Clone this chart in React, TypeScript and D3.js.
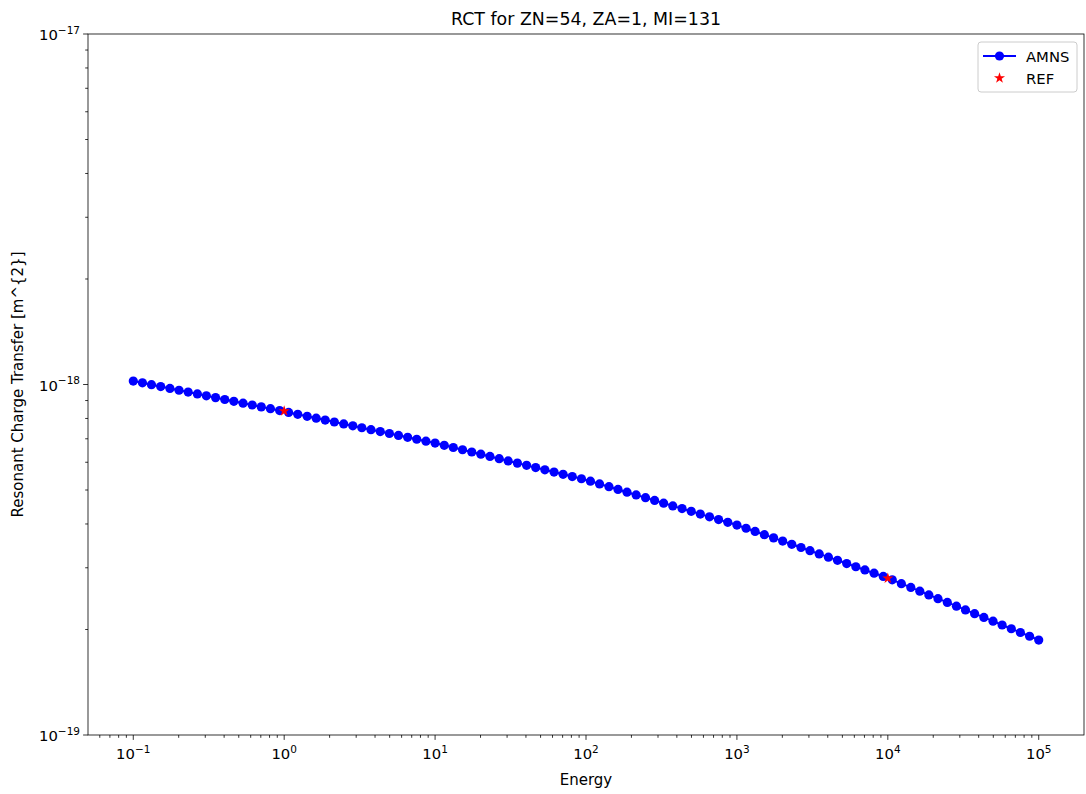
import React, { useEffect, useRef } from "react";
import * as d3 from "d3";

// energies (logspace from 1e-1 to 1e5, 100 points)
const energy: number[] = [
  0.1, 0.115, 0.132, 0.152, 0.175, 0.201, 0.231, 0.266, 0.305, 0.351,
  0.404, 0.464, 0.534, 0.614, 0.705, 0.811, 0.933, 1.07, 1.23, 1.42,
  1.63, 1.87, 2.15, 2.48, 2.85, 3.27, 3.76, 4.33, 4.98, 5.72,
  6.58, 7.56, 8.7, 10, 11.5, 13.2, 15.2, 17.5, 20.1, 23.1,
  26.6, 30.5, 35.1, 40.4, 46.4, 53.4, 61.4, 70.5, 81.1, 93.3,
  107, 123, 142, 163, 187, 215, 248, 285, 327, 376,
  433, 498, 572, 658, 756, 870, 1000, 1150, 1320, 1520,
  1750, 2010, 2310, 2660, 3050, 3510, 4040, 4640, 5340, 6140,
  7050, 8110, 9330, 10700, 12300, 14200, 16300, 18700, 21500, 24800,
  28500, 32700, 37600, 43300, 49800, 57200, 65800, 75600, 87000, 100000,
];

// AMNS cross section [m^2]
const amns: number[] = [
  1.023e-18, 1.011e-18, 9.987e-19, 9.867e-19, 9.748e-19, 9.63e-19, 9.514e-19, 9.399e-19, 9.286e-19, 9.174e-19,
  9.063e-19, 8.954e-19, 8.846e-19, 8.739e-19, 8.633e-19, 8.529e-19, 8.426e-19, 8.323e-19, 8.219e-19, 8.116e-19,
  8.015e-19, 7.915e-19, 7.816e-19, 7.719e-19, 7.622e-19, 7.527e-19, 7.433e-19, 7.34e-19, 7.248e-19, 7.158e-19,
  7.068e-19, 6.98e-19, 6.893e-19, 6.807e-19, 6.708e-19, 6.61e-19, 6.514e-19, 6.419e-19, 6.326e-19, 6.234e-19,
  6.143e-19, 6.054e-19, 5.966e-19, 5.879e-19, 5.793e-19, 5.709e-19, 5.626e-19, 5.544e-19, 5.463e-19, 5.384e-19,
  5.298e-19, 5.203e-19, 5.11e-19, 5.019e-19, 4.929e-19, 4.841e-19, 4.755e-19, 4.67e-19, 4.587e-19, 4.505e-19,
  4.425e-19, 4.346e-19, 4.268e-19, 4.192e-19, 4.117e-19, 4.044e-19, 3.972e-19, 3.889e-19, 3.808e-19, 3.729e-19,
  3.651e-19, 3.575e-19, 3.5e-19, 3.427e-19, 3.356e-19, 3.286e-19, 3.217e-19, 3.15e-19, 3.084e-19, 3.02e-19,
  2.957e-19, 2.895e-19, 2.835e-19, 2.771e-19, 2.703e-19, 2.637e-19, 2.573e-19, 2.51e-19, 2.449e-19, 2.389e-19,
  2.331e-19, 2.274e-19, 2.219e-19, 2.165e-19, 2.112e-19, 2.06e-19, 2.01e-19, 1.961e-19, 1.913e-19, 1.866e-19,
];

const refEnergy: number[] = [1, 10000];
const refValue: number[] = [8.4e-19, 2.8e-19];

const xTickExp: number[] = [-1, 0, 1, 2, 3, 4, 5];
const yTickExp: number[] = [-19, -18, -17];

const W = 1086;
const H = 794;

export default function App() {
  const ref = useRef<SVGSVGElement | null>(null);

  useEffect(() => {
    const margin = { top: 34, right: 2, bottom: 59, left: 88 };
    const width = W - margin.left - margin.right;
    const height = H - margin.top - margin.bottom;
    const font = "DejaVu Sans, sans-serif";

    const svg = d3.select(ref.current);
    svg.selectAll("*").remove();

    const x = d3.scaleLog().domain([Math.pow(10, -1.3), Math.pow(10, 5.3)]).range([0, width]);
    const y = d3.scaleLog().domain([1e-19, 1e-17]).range([height, 0]);

    const g = svg.append("g").attr("transform", `translate(${margin.left},${margin.top})`);

    // minor ticks
    const xMinor: number[] = [];
    for (let e = -2; e <= 5; e++) for (let k = 2; k <= 9; k++) {
      const v = k * Math.pow(10, e);
      if (v > x.domain()[0] && v < x.domain()[1]) xMinor.push(v);
    }
    const yMinor: number[] = [];
    for (let e = -19; e < -17; e++) for (let k = 2; k <= 9; k++) yMinor.push(k * Math.pow(10, e));

    g.selectAll(".xminor").data(xMinor).join("line").attr("class", "xminor")
      .attr("x1", d => x(d)).attr("x2", d => x(d)).attr("y1", height).attr("y2", height + 2.8)
      .attr("stroke", "#000").attr("stroke-width", 0.8);
    g.selectAll(".yminor").data(yMinor).join("line").attr("class", "yminor")
      .attr("y1", d => y(d)).attr("y2", d => y(d)).attr("x1", 0).attr("x2", -2.8)
      .attr("stroke", "#000").attr("stroke-width", 0.8);

    // major ticks + labels
    const xt = g.selectAll(".xtick").data(xTickExp).join("g").attr("class", "xtick")
      .attr("transform", d => `translate(${x(Math.pow(10, d))},${height})`);
    xt.append("line").attr("y2", 4.9).attr("stroke", "#000").attr("stroke-width", 0.8);
    const xtt = xt.append("text").attr("y", 24).attr("text-anchor", "middle")
      .attr("font-family", font).attr("font-size", 14.8).attr("fill", "#000");
    xtt.append("tspan").text("10");
    xtt.append("tspan").attr("dy", -6.5).attr("font-size", 10.5).text(d => (d < 0 ? "\u2212" : "") + Math.abs(d));

    const yt = g.selectAll(".ytick").data(yTickExp).join("g").attr("class", "ytick")
      .attr("transform", d => `translate(0,${y(Math.pow(10, d))})`);
    yt.append("line").attr("x2", -4.9).attr("stroke", "#000").attr("stroke-width", 0.8);
    const ytt = yt.append("text").attr("x", -8).attr("y", 6).attr("text-anchor", "end")
      .attr("font-family", font).attr("font-size", 14.8).attr("fill", "#000");
    ytt.append("tspan").text("10");
    ytt.append("tspan").attr("dy", -6.5).attr("font-size", 10.5).text(d => "\u2212" + Math.abs(d));

    // AMNS line + markers
    const pts = energy.map((e, i) => [e, amns[i]] as [number, number]);
    const line = d3.line<[number, number]>().x(d => x(d[0])).y(d => y(d[1]));
    g.append("path").attr("d", line(pts)).attr("fill", "none").attr("stroke", "#0000ff").attr("stroke-width", 2);
    g.selectAll(".pt").data(pts).join("circle").attr("class", "pt")
      .attr("cx", d => x(d[0])).attr("cy", d => y(d[1])).attr("r", 4.6).attr("fill", "#0000ff");

    // REF stars
    const star = d3.symbol().type(d3.symbolStar).size(38);
    g.selectAll(".ref").data(refEnergy).join("path").attr("class", "ref")
      .attr("transform", (d, i) => `translate(${x(d)},${y(refValue[i])})`)
      .attr("d", star()).attr("fill", "#ff0000");

    // frame
    g.append("rect").attr("width", width).attr("height", height)
      .attr("fill", "none").attr("stroke", "#000").attr("stroke-width", 0.8);

    // legend
    const lg = g.append("g").attr("transform", `translate(${width - 106},${8})`);
    lg.append("rect").attr("width", 99).attr("height", 50).attr("rx", 3)
      .attr("fill", "#fff").attr("fill-opacity", 0.8).attr("stroke", "#cccccc").attr("stroke-width", 1);
    lg.append("line").attr("x1", 5).attr("x2", 38).attr("y1", 14).attr("y2", 14)
      .attr("stroke", "#0000ff").attr("stroke-width", 2);
    lg.append("circle").attr("cx", 21.5).attr("cy", 14).attr("r", 4.6).attr("fill", "#0000ff");
    lg.append("path").attr("transform", "translate(21.5,36)").attr("d", star()).attr("fill", "#ff0000");
    lg.selectAll(".ltxt").data(["AMNS", "REF"]).join("text").attr("class", "ltxt")
      .attr("x", 48).attr("y", (d, i) => 19.5 + i * 22).text(d => d)
      .attr("font-family", font).attr("font-size", 14.8).attr("fill", "#000");

    // titles
    svg.append("text").attr("x", margin.left + width / 2).attr("y", 25).attr("text-anchor", "middle")
      .attr("font-family", font).attr("font-size", 17.4).text("RCT for ZN=54, ZA=1, MI=131");
    svg.append("text").attr("x", margin.left + width / 2).attr("y", 785).attr("text-anchor", "middle")
      .attr("font-family", font).attr("font-size", 15).text("Energy");
    svg.append("text").attr("transform", `translate(23,${margin.top + height / 2}) rotate(-90)`)
      .attr("text-anchor", "middle").attr("font-family", font).attr("font-size", 15)
      .text("Resonant Charge Transfer [m^{2}]");
  }, []);

  return (
    <div style={{ position: "absolute", left: 0, top: 0 }}>
      <svg ref={ref} width={W} height={H} style={{ display: "block", background: "#fff" }} />
    </div>
  );
}
